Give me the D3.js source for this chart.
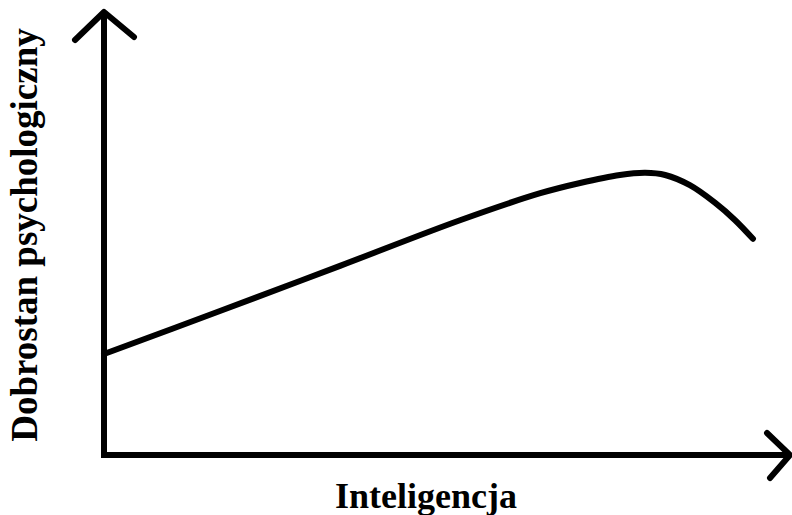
<!DOCTYPE html>
<html>
<head>
<meta charset="utf-8">
<script src="https://cdn.jsdelivr.net/npm/d3@7"></script>
<style>
html,body{margin:0;padding:0;background:#fff;}
svg{display:block;}
</style>
</head>
<body>
<svg id="chart" width="792" height="515"></svg>
<script>
// Data (abstract units)
const xValues = [0, 16.9, 34.4, 51.9, 63.6, 69.4, 75.2, 78.9, 81.8, 85.4, 89.1, 92.0, 94.6];
const yValues = [22.8, 32.5, 42.7, 53.0, 59.1, 61.4, 63.2, 63.7, 63.2, 60.9, 56.9, 53.0, 48.8];
const xLabel = "Inteligencja";
const yLabel = "Dobrostan psychologiczny";

const svg = d3.select("#chart");
const x = d3.scaleLinear().domain([0, 100]).range([104, 790]);
const y = d3.scaleLinear().domain([0, 100]).range([455, 12]);

const sw = 6;
const axisG = svg.append("g")
  .attr("stroke", "#000").attr("stroke-width", sw)
  .attr("fill", "none").attr("stroke-linejoin", "round");

// y axis with arrow
axisG.append("line").attr("x1", x(0)).attr("y1", y(0) + 3).attr("x2", x(0)).attr("y2", y(100));
axisG.append("polyline").attr("stroke-linecap", "round").attr("points", [
  [x(0) - 29, y(100) + 28], [x(0), y(100)], [x(0) + 30, y(100) + 25]
].map(p => p.join(",")).join(" "));

// x axis with arrow
axisG.append("line").attr("x1", x(0) - 3).attr("y1", y(0)).attr("x2", x(100)).attr("y2", y(0));
axisG.append("polyline").attr("stroke-linecap", "round").attr("points", [
  [x(100) - 23, y(0) - 22], [x(100), y(0)], [x(100) - 20, y(0) + 23]
].map(p => p.join(",")).join(" "));

// curve
const data = xValues.map((v, i) => [v, yValues[i]]);
const line = d3.line().x(d => x(d[0])).y(d => y(d[1])).curve(d3.curveCatmullRom.alpha(0.5));
svg.append("path").datum(data).attr("d", line)
  .attr("fill", "none").attr("stroke", "#000").attr("stroke-width", sw)
  .attr("stroke-linecap", "round");

// labels
const font = "'Liberation Serif','Times New Roman',serif";
svg.append("text").attr("x", 426).attr("y", 508)
  .attr("text-anchor", "middle").attr("font-family", font)
  .attr("font-weight", "bold").attr("font-size", 36).attr("fill", "#000").text(xLabel);
svg.append("text").attr("transform", "translate(37,235) rotate(-90)")
  .attr("text-anchor", "middle").attr("font-family", font)
  .attr("font-weight", "bold").attr("font-size", 37).attr("fill", "#000").text(yLabel);
</script>
</body>
</html>
